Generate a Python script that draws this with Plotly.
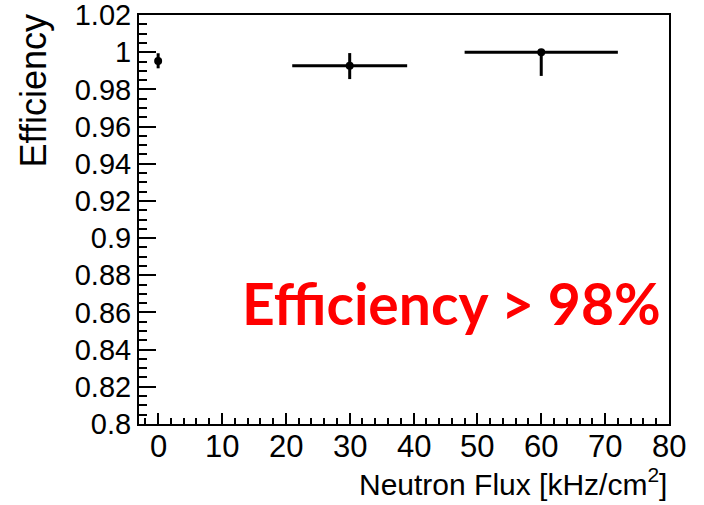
import plotly.graph_objects as go

# Measured efficiency vs. neutron flux
flux = [0, 30, 60]
flux_err = [0, 9, 12]
eff = [0.9954, 0.9928, 1.0]
eff_err_up = [0.0041, 0.0068, 0.0]
eff_err_down = [0.0040, 0.0072, 0.0127]

# Axis tick labels
x_tick_vals = [0, 10, 20, 30, 40, 50, 60, 70, 80]
x_tick_text = ["0", "10", "20", "30", "40", "50", "60", "70", "80"]
y_tick_vals = [0.80, 0.82, 0.84, 0.86, 0.88, 0.90, 0.92, 0.94, 0.96, 0.98, 1.00, 1.02]
y_tick_text = ["0.8", "0.82", "0.84", "0.86", "0.88", "0.9", "0.92", "0.94",
               "0.96", "0.98", "1", "1.02"]

AXIS_FONT = "Liberation Sans, Arial, Helvetica, sans-serif"

fig = go.Figure()
fig.add_trace(go.Scatter(
    x=flux, y=eff, mode="markers",
    marker=dict(color="black", size=8, symbol="circle"),
    error_x=dict(type="data", array=flux_err, symmetric=True,
                 color="black", thickness=3, width=0),
    error_y=dict(type="data", array=eff_err_up, arrayminus=eff_err_down,
                 symmetric=False, color="black", thickness=3, width=0),
    showlegend=False,
))

# x tick labels sit close under the axis, ROOT style
x_label_annotations = [
    dict(text=txt, x=val, xref="x", y=-0.055, yref="paper",
         xanchor="center", yanchor="middle", showarrow=False,
         font=dict(family=AXIS_FONT, size=31, color="black"))
    for val, txt in zip(x_tick_vals, x_tick_text)
]

fig.update_layout(
    width=704, height=505,
    margin=dict(l=139, r=35, t=15, b=81),
    paper_bgcolor="white", plot_bgcolor="white",
    xaxis=dict(
        range=[-3, 80.01], showgrid=False, zeroline=False, automargin=False,
        showline=True, linecolor="black", linewidth=2, mirror=True,
        ticks="inside", ticklen=11, tickwidth=1.5, tickcolor="black",
        tickvals=x_tick_vals, showticklabels=False,
        minor=dict(ticks="inside", ticklen=6, tickwidth=1.5,
                   tickcolor="black", dtick=2, tick0=0, showgrid=False),
    ),
    yaxis=dict(
        range=[0.7999, 1.0201], showgrid=False, zeroline=False, automargin=False,
        showline=True, linecolor="black", linewidth=2, mirror=True,
        ticks="inside", ticklen=17, tickwidth=1.5, tickcolor="black",
        tickvals=y_tick_vals, ticktext=y_tick_text,
        tickfont=dict(family=AXIS_FONT, size=29, color="black"),
        ticklabeloverflow="allow",
        minor=dict(ticks="inside", ticklen=8, tickwidth=1.5,
                   tickcolor="black", dtick=0.005, tick0=0.8, showgrid=False),
    ),
    annotations=x_label_annotations + [
        dict(text="Efficiency &gt; 98%", xref="paper", yref="paper",
             x=0.59, y=0.295, xanchor="center", yanchor="middle",
             showarrow=False,
             font=dict(family="Lato", size=57, color="#ff0000", weight="bold")),
        dict(text="Neutron Flux [kHz/cm<sup>2</sup>]", xref="paper", yref="paper",
             x=1.0, y=-0.193, xanchor="right", yanchor="bottom", showarrow=False,
             font=dict(family=AXIS_FONT, size=30, color="black")),
        dict(text="Efficiency", xref="paper", yref="paper",
             x=-0.2, y=1.005, xanchor="center", yanchor="top", textangle=-90,
             showarrow=False,
             font=dict(family=AXIS_FONT, size=36, color="black")),
    ],
)

fig.write_html("out.html")
